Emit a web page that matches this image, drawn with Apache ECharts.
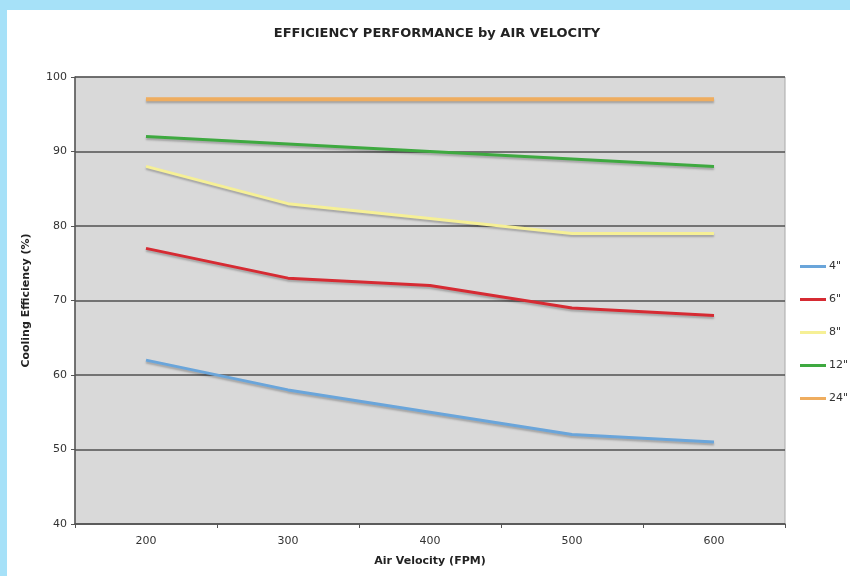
<!DOCTYPE html>
<html>
<head>
<meta charset="utf-8">
<script src="https://cdn.jsdelivr.net/npm/echarts@6/dist/echarts.min.js"></script>
<style>
html,body{margin:0;padding:0;background:#a6e1f8;width:850px;height:576px;overflow:hidden;}
#chart{position:absolute;left:7px;top:10px;width:843px;height:566px;background:#ffffff;}
</style>
</head>
<body>
<div id="chart"></div>
<script>
const categories = ['200', '300', '400', '500', '600'];
const seriesNames = ['4"', '6"', '8"', '12"', '24"'];
const s4 = [62, 58, 55, 52, 51];
const s6 = [77, 73, 72, 69, 68];
const s8 = [88, 83, 81, 79, 79];
const s12 = [92, 91, 90, 89, 88];
const s24 = [97, 97, 97, 97, 97];
const yTicks = [40, 50, 60, 70, 80, 90, 100];

const colors = ['#6aa5da', '#d62b33', '#f6f096', '#3ea940', '#efad5f'];
const widths = [3, 3, 3, 3, 4];
const dataSets = [s4, s6, s8, s12, s24];

const chart = echarts.init(document.getElementById('chart'), null, {renderer: 'canvas'});
const font = 'DejaVu Sans, Verdana, sans-serif';
chart.setOption({
  animation: false,
  title: {
    text: 'EFFICIENCY PERFORMANCE by AIR VELOCITY',
    left: 425, top: 12, textAlign: 'center',
    textStyle: {fontFamily: font, fontWeight: 'bold', fontSize: 13, color: '#222'}
  },
  grid: {
    left: 68, right: 65, top: 67, bottom: 52,
    show: true, backgroundColor: '#d9d9d9', borderColor: '#a8a8a8', borderWidth: 1
  },
  legend: {
    orient: 'vertical', left: 793, top: 251, padding: 0,
    itemWidth: 26, itemHeight: 3, itemGap: 22, icon: 'rect',
    textStyle: {fontFamily: font, fontSize: 11, color: '#333', padding: [0, 0, 0, -2]},
    data: seriesNames
  },
  xAxis: {
    type: 'category', data: categories, boundaryGap: true,
    name: 'Air Velocity (FPM)', nameLocation: 'middle', nameGap: 32,
    nameTextStyle: {fontFamily: font, fontWeight: 'bold', fontSize: 11, color: '#222'},
    axisLine: {lineStyle: {color: '#555', width: 1.5}},
    axisTick: {show: true, inside: false, length: 4, lineStyle: {color: '#555'}},
    axisLabel: {fontFamily: font, fontSize: 11, color: '#333', margin: 12},
    splitLine: {show: false}
  },
  yAxis: {
    type: 'value', min: yTicks[0], max: yTicks[yTicks.length - 1], interval: 10,
    name: 'Cooling Efficiency (%)', nameLocation: 'middle', nameGap: 43,
    nameTextStyle: {fontFamily: font, fontWeight: 'bold', fontSize: 11, color: '#222'},
    axisLine: {show: true, lineStyle: {color: '#555', width: 1.5}},
    axisTick: {show: true, inside: false, length: 4, lineStyle: {color: '#555'}},
    axisLabel: {fontFamily: font, fontSize: 11, color: '#333', margin: 8},
    splitLine: {show: true, lineStyle: {color: '#505050', width: 1.5}}
  },
  series: seriesNames.map((n, i) => ({
    name: n, type: 'line', data: dataSets[i], symbol: 'none',
    color: colors[i],
    lineStyle: {color: colors[i], width: widths[i], shadowColor: 'rgba(0,0,0,0.25)', shadowBlur: 2, shadowOffsetY: 2},
    z: 2 + i
  }))
});
</script>
</body>
</html>
